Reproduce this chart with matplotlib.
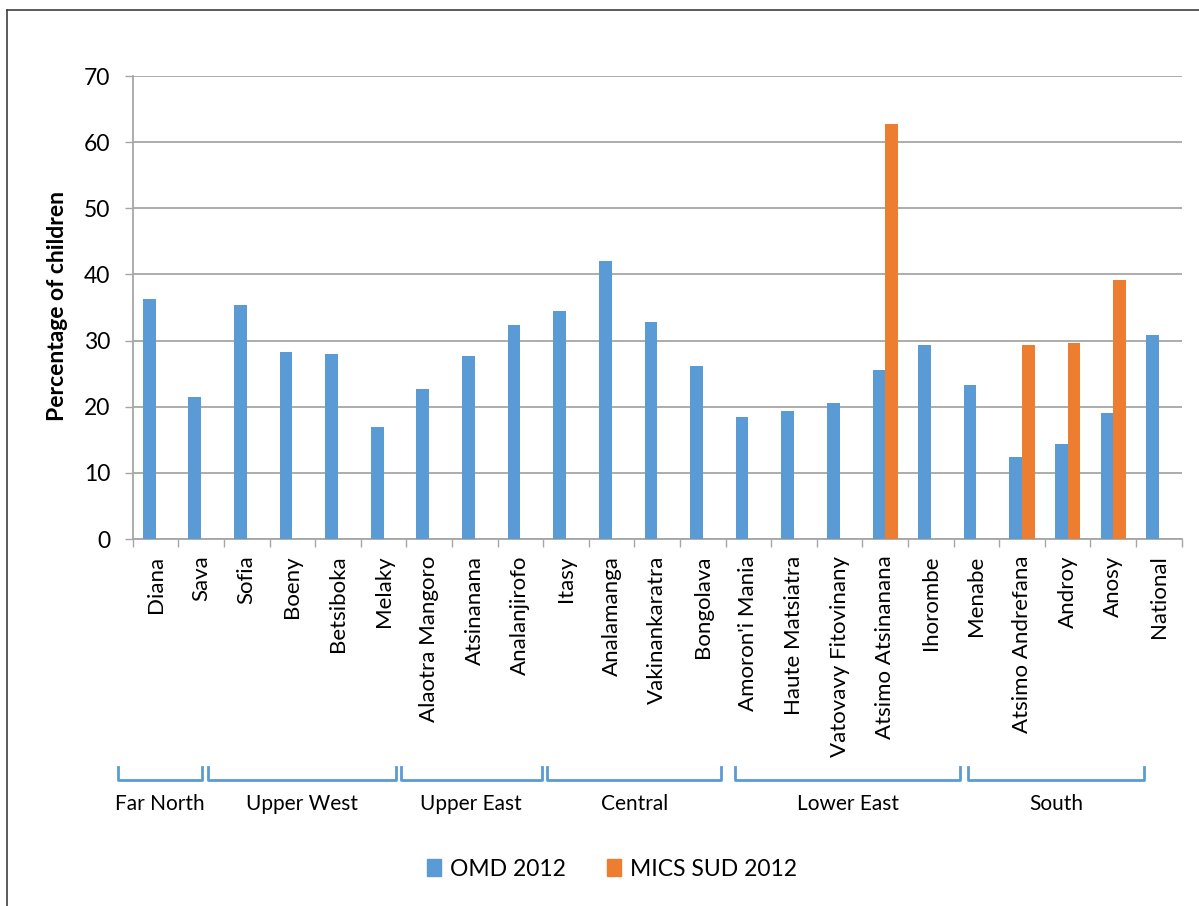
import numpy as np
import matplotlib.pyplot as plt
from matplotlib.lines import Line2D
from matplotlib.patches import Patch
import matplotlib.transforms as mtransforms

plt.rcParams['font.family'] = ['Lato', 'DejaVu Sans']

regions = ["Diana", "Sava", "Sofia", "Boeny", "Betsiboka", "Melaky",
           "Alaotra Mangoro", "Atsinanana", "Analanjirofo", "Itasy",
           "Analamanga", "Vakinankaratra", "Bongolava", "Amoron'i Mania",
           "Haute Matsiatra", "Vatovavy Fitovinany", "Atsimo Atsinanana",
           "Ihorombe", "Menabe", "Atsimo Andrefana", "Androy", "Anosy",
           "National"]
omd_2012 = [36.3, 21.4, 35.4, 28.2, 27.9, 17.0, 22.7, 27.6, 32.3, 34.4,
            42.1, 32.8, 26.1, 18.4, 19.4, 20.5, 25.5, 29.4, 23.3, 12.4,
            14.3, 19.0, 30.9]
mics_regions = ["Atsimo Atsinanana", "Atsimo Andrefana", "Androy", "Anosy"]
mics_2012 = [62.8, 29.3, 29.7, 39.2]

groups = ["Far North", "Upper West", "Upper East", "Central", "Lower East", "South"]
# bracket ends, in category units (drawn by hand in the original)
group_x0 = [-0.83, 1.16, 5.38, 8.59, 12.71, 17.81]
group_x1 = [1.01, 5.27, 8.47, 12.40, 17.65, 21.68]

blue = '#5B9BD5'
orange = '#ED7D31'
grid_c = '#A6A6A6'

W, H = 1199, 906
fig = plt.figure(figsize=(W/100, H/100), dpi=100)
ax = fig.add_axes([132.7/W, 1-539/H, (1181.7-132.7)/W, (539-76)/H])

x = np.arange(len(regions))
w = 0.278
ax.bar(x - w/2, omd_2012, w, color=blue, zorder=3)
mx = [regions.index(r) for r in mics_regions]
ax.bar(np.array(mx) + w/2, mics_2012, w, color=orange, zorder=3)

ax.set_xlim(-0.5, len(regions) - 0.5)
ax.set_ylim(0, 70)
ax.set_yticks(range(0, 71, 10))
ax.yaxis.grid(True, color=grid_c, lw=1.3, zorder=0)
ax.tick_params(axis='y', length=6, width=1, color=grid_c, labelsize=16.5, pad=10)

ax.set_xticks(np.arange(-0.5, len(regions)), minor=False)
ax.set_xticklabels([])
ax.tick_params(axis='x', which='major', length=6, width=1, color=grid_c)
ax.set_xticks(x, minor=True)
ax.set_xticklabels(regions, minor=True, rotation=90, fontsize=16, va='top')
ax.tick_params(axis='x', which='minor', length=0, pad=12)

for s in ['top', 'right']:
    ax.spines[s].set_visible(False)
for s in ['left', 'bottom']:
    ax.spines[s].set_color(grid_c)
    ax.spines[s].set_linewidth(1.3)

fig.text(58/W, 1-306/H, "Percentage of children", rotation=90, fontsize=16.5,
         fontweight='bold', ha='center', va='center')

# group brackets under the region labels
tr = mtransforms.blended_transform_factory(ax.transData, fig.transFigure)
ytop = 1 - 766.5/H
ybot = 1 - 779.5/H
for g, a, b in zip(groups, group_x0, group_x1):
    ax.add_line(Line2D([a, a, b, b], [ytop, ybot, ybot, ytop], transform=tr,
                       color=blue, lw=2, clip_on=False))
    ax.text((a + b)/2, 1-804/H, g, transform=tr, ha='center', va='center',
            fontsize=15)

# frame around the figure (only left and top fall inside the image)
fig.add_artist(Line2D([7/W, 7/W], [0, 1-10/H], color='#404040', lw=1.2))
fig.add_artist(Line2D([7/W, 1], [1-10/H, 1-10/H], color='#404040', lw=1.2))

handles = [Patch(color=blue, label='OMD 2012'),
           Patch(color=orange, label='MICS SUD 2012')]
fig.legend(handles=handles, loc='center', bbox_to_anchor=(612/W, 1-869/H),
           ncol=2, frameon=False, fontsize=16.5, handlelength=0.6,
           handleheight=0.8, handletextpad=0.4, columnspacing=1.8)

fig.savefig('out.png', dpi=100)
